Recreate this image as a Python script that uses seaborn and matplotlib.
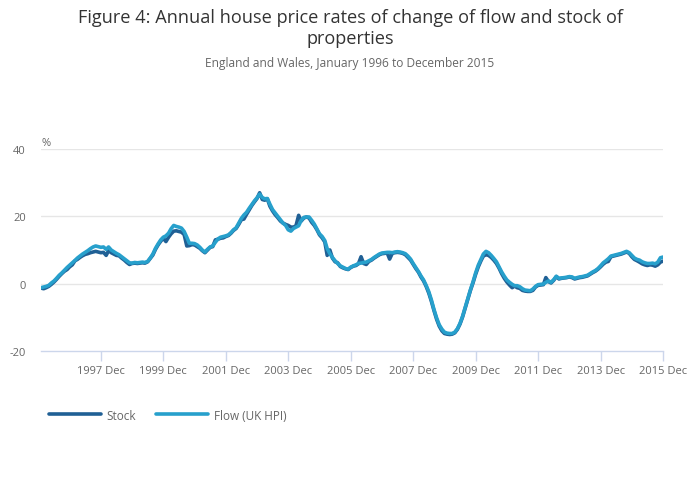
import pandas as pd
import seaborn as sns
import matplotlib.pyplot as plt
import numpy as np

#%% data (monthly, Jan 1996 - Dec 2015)

flow = [
    -1.2, -1.0, -0.8, -0.5, 0.2, 0.8, 1.6, 2.5, 3.2, 4.0, 4.8, 5.5,          # 1996
    6.2, 6.9, 7.6, 8.2, 8.8, 9.3, 9.8, 10.4, 10.9, 11.2, 11.0, 10.8,         # 1997
    10.9, 10.2, 10.9, 10.0, 9.5, 9.0, 8.6, 8.0, 7.4, 6.8, 6.2, 6.1,          # 1998
    6.3, 6.2, 6.3, 6.4, 6.3, 6.6, 7.6, 8.8, 10.5, 11.8, 13.0, 13.8,          # 1999
    14.2, 15.0, 16.3, 17.3, 17.0, 16.8, 16.5, 15.5, 13.8, 12.0, 12.0, 11.9,  # 2000
    11.5, 10.8, 10.0, 9.4, 10.2, 10.9, 11.2, 12.3, 13.3, 13.8, 14.0, 14.2,   # 2001
    14.5, 15.2, 16.0, 16.6, 18.0, 19.4, 20.4, 21.2, 22.4, 23.5, 24.6, 25.5,  # 2002
    26.6, 25.6, 25.2, 25.3, 23.6, 22.0, 21.0, 20.0, 19.0, 18.0, 17.3, 16.0,  # 2003
    15.6, 16.4, 16.8, 17.2, 18.8, 19.7, 19.8, 19.8, 18.8, 17.7, 16.2, 14.8,  # 2004
    14.0, 12.8, 10.4, 8.9, 7.8, 6.8, 6.0, 5.3, 4.9, 4.5, 4.3, 4.9,           # 2005
    5.3, 5.6, 6.0, 6.1, 6.3, 6.4, 6.8, 7.2, 7.8, 8.3, 8.8, 9.1,              # 2006
    9.2, 9.3, 9.3, 9.2, 9.4, 9.5, 9.4, 9.2, 8.9, 8.2, 7.3, 6.0,              # 2007
    4.8, 3.6, 2.3, 1.1, -0.5, -2.4, -4.8, -7.7, -10.2, -12.2, -13.5, -14.4,  # 2008
    -14.7, -14.8, -14.8, -14.4, -13.4, -11.8, -9.7, -7.0, -4.3, -1.8, 0.6, 3.2,  # 2009
    5.5, 7.2, 8.8, 9.6, 9.2, 8.4, 7.5, 6.5, 5.0, 3.5, 2.2, 1.1,              # 2010
    0.4, -0.2, -0.6, -0.6, -0.9, -1.5, -1.9, -2.0, -2.1, -1.6, -0.8, -0.3,   # 2011
    -0.2, -0.1, 0.4, 0.8, 0.4, 1.2, 2.2, 1.6, 1.7, 1.8, 1.9, 2.1,            # 2012
    2.0, 1.6, 1.8, 2.0, 2.1, 2.3, 2.5, 3.0, 3.5, 3.9, 4.5, 5.3,              # 2013
    6.2, 6.8, 7.4, 8.2, 8.4, 8.6, 8.8, 9.0, 9.3, 9.6, 9.2, 8.4,              # 2014
    7.6, 7.2, 7.0, 6.5, 6.2, 6.0, 6.0, 6.1, 5.9, 6.4, 7.7, 7.9,              # 2015
]

stock = [
    -1.3, -1.5, -1.2, -0.8, -0.2, 0.5, 1.3, 2.2, 3.0, 3.7, 4.2, 5.0,         # 1996
    5.6, 6.8, 7.2, 7.8, 8.3, 8.7, 8.9, 9.2, 9.4, 9.6, 9.4, 9.2,              # 1997
    9.3, 8.4, 9.8, 9.2, 8.8, 8.4, 8.3, 7.6, 7.0, 6.3, 5.7, 6.0,              # 1998
    6.1, 6.0, 6.1, 6.2, 6.1, 6.5, 7.5, 8.5, 10.2, 11.5, 12.6, 13.5,          # 1999
    12.5, 13.8, 14.8, 15.6, 15.7, 15.5, 15.3, 14.6, 11.2, 11.3, 11.6, 11.5,  # 2000
    11.0, 10.5, 9.8, 9.2, 10.0, 10.8, 11.0, 13.0, 13.2, 13.5, 13.6, 14.0,    # 2001
    14.3, 15.0, 15.8, 16.4, 17.6, 19.0, 19.2, 20.6, 21.9, 23.2, 24.3, 25.3,  # 2002
    27.0, 25.0, 24.8, 25.2, 23.0, 21.6, 20.5, 19.6, 18.6, 18.0, 17.6, 17.3,  # 2003
    16.8, 16.8, 17.2, 20.3, 18.6, 19.5, 19.8, 19.5, 18.2, 17.3, 16.0, 14.5,  # 2004
    13.6, 12.4, 8.4, 10.0, 7.6, 6.5, 6.2, 5.1, 4.7, 4.4, 4.2, 4.8,           # 2005
    5.2, 5.4, 5.9, 8.0, 6.0, 5.7, 6.6, 7.0, 7.6, 8.1, 8.6, 8.9,              # 2006
    9.0, 9.1, 7.3, 9.0, 9.2, 9.3, 9.2, 9.0, 8.6, 7.8, 7.0, 5.8,              # 2007
    4.5, 3.4, 2.0, 0.8, -0.8, -2.8, -5.2, -8.0, -10.6, -12.6, -14.0, -14.8,  # 2008
    -15.0, -15.1, -15.0, -14.6, -13.6, -12.0, -9.9, -7.2, -4.6, -2.0, 0.3, 2.8,  # 2009
    5.0, 6.8, 8.2, 8.6, 8.4, 7.8, 7.0, 6.0, 4.6, 3.0, 1.6, 0.5,              # 2010
    -0.4, -1.2, -0.7, -1.2, -1.4, -2.0, -2.2, -2.3, -2.3, -2.0, -1.0, -0.5,  # 2011
    -0.4, -0.3, 1.8, 0.6, 0.2, 1.0, 2.1, 1.4, 1.6, 1.7, 1.8, 2.0,            # 2012
    1.8, 1.4, 1.6, 1.8, 1.9, 2.1, 2.3, 2.8, 3.3, 3.7, 4.3, 5.0,              # 2013
    5.8, 6.4, 6.6, 8.0, 8.2, 8.4, 8.6, 8.8, 9.1, 9.4, 9.0, 8.0,              # 2014
    7.2, 6.8, 6.4, 5.9, 5.6, 5.4, 5.6, 5.5, 5.2, 5.6, 6.4, 6.7,              # 2015
]

series_names = ["Stock", "Flow (UK HPI)"]
tick_years = [1997, 1999, 2001, 2003, 2005, 2007, 2009, 2011, 2013, 2015]
tick_labels = [str(y) + " Dec" for y in tick_years]
y_ticks = [-20, 0, 20, 40]

#%% draw

sns.set_theme(style='white')
plt.rcParams['font.family'] = ['Open Sans', 'DejaVu Sans']
plt.rcParams['axes.unicode_minus'] = False

dates = pd.date_range("1996-01-01", periods=len(flow), freq="MS")
df = pd.DataFrame({"date": dates, "Stock": stock, "Flow (UK HPI)": flow})
dfm = df.melt("date", var_name="series", value_name="rate")

palette = {"Stock": "#206095", "Flow (UK HPI)": "#27a0cc"}

fig = plt.figure(figsize=(7, 5.02), dpi=100)
ax = fig.add_axes([41 / 700, 1 - 352 / 502, 622 / 700, 202 / 502])

sns.lineplot(data=dfm, x="date", y="rate", hue="series", hue_order=series_names,
             palette=palette, linewidth=2.6, ax=ax, legend=False)

ax.set_xlim(pd.Timestamp("1996-01-01"), pd.Timestamp("2015-12-01"))
ax.set_ylim(-20, 40)
ax.set_yticks(y_ticks)
ax.set_xticks([pd.Timestamp(f"{y}-12-01") for y in tick_years])
ax.set_xticklabels(tick_labels)
ax.set_xlabel("")
ax.set_ylabel("")

# gridlines
for v in y_ticks[1:]:
    ax.axhline(v, color="#e6e6e6", linewidth=1, zorder=0)
for s in ["top", "right", "left"]:
    ax.spines[s].set_visible(False)
ax.spines["bottom"].set_color("#ccd6eb")
ax.spines["bottom"].set_linewidth(1)

ax.tick_params(axis="x", colors="#ccd6eb", labelcolor="#666666", length=7,
               width=1, labelsize=8, pad=3, direction="out", bottom=True)
ax.tick_params(axis="y", labelcolor="#666666", length=0, labelsize=8, pad=11)

ax.text(0, 1 + 7 / 202, "%", transform=ax.transAxes, color="#666666", fontsize=8,
        ha="left", va="center")

# titles
fig.text(0.5, 1 - 18 / 502, "Figure 4: Annual house price rates of change of flow and stock of",
         ha="center", va="center", fontsize=13.1, color="#333333")
fig.text(0.5, 1 - 39 / 502, "properties",
         ha="center", va="center", fontsize=13.1, color="#333333")
fig.text(0.5, 1 - 64 / 502, "England and Wales, January 1996 to December 2015",
         ha="center", va="center", fontsize=8.6, color="#666666")

# legend
handles = [plt.Line2D([], [], color=palette[n], linewidth=2.6) for n in series_names]
leg = fig.legend(handles, series_names, loc="center left",
                 bbox_to_anchor=(38 / 700, 1 - 416 / 502), ncol=2, frameon=False,
                 fontsize=8.5, handlelength=4.4, handletextpad=0.5, columnspacing=1.7)
for t in leg.get_texts():
    t.set_color("#666666")

plt.savefig("out.png", dpi=100)
plt.close()
